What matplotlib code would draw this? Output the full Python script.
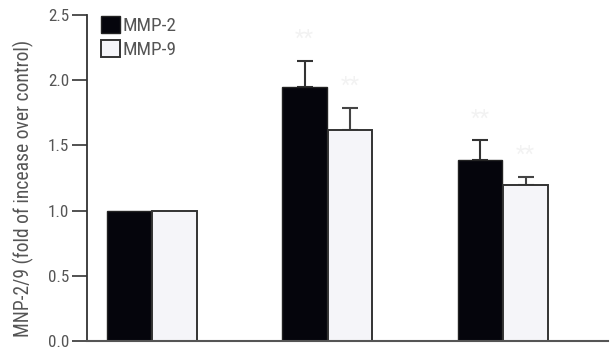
import matplotlib
matplotlib.use("Agg")
import matplotlib.pyplot as plt
import numpy as np

groups = [0, 1, 2]
mmp2 = [1.00, 1.95, 1.39]
mmp2_err = [0.0, 0.20, 0.15]
mmp9 = [1.00, 1.62, 1.20]
mmp9_err = [0.0, 0.17, 0.06]
yticks = [0.0, 0.5, 1.0, 1.5, 2.0, 2.5]
ylabel = "MNP-2/9 (fold of incease over control)"
series_labels = ["MMP-2", "MMP-9"]

FAM = ['Roboto Condensed', 'PT Sans Narrow', 'DejaVu Sans']
plt.rcParams['font.family'] = FAM
TXT = '#555555'

fig = plt.figure(figsize=(6.14, 3.51), dpi=100)
W, H = 614, 351
renderer = fig.canvas.get_renderer()


def fit_size(s, target_px):
    t = fig.text(0, 0, s, fontsize=10)
    w = t.get_window_extent(renderer).width
    t.remove()
    return 10.0 * target_px / w


tick_fs = fit_size("1.0", 21)
leg_fs = fit_size("MMP-2", 54)
lab_fs = fit_size(ylabel, 296)

ax = fig.add_axes([87 / W, (H - 341) / H, (608 - 87) / W, (341 - 15) / H])

x = np.array(groups, dtype=float)
bw = 0.255
off = 0.13
ax.bar(x - off, mmp2, bw, color='#05050c', edgecolor='#222222', linewidth=1.0,
       label=series_labels[0], zorder=2)
ax.bar(x + off, mmp9, bw, color='#f5f5f9', edgecolor='#333333', linewidth=1.4,
       label=series_labels[1], zorder=2)

for xi, v, e in zip(x - off, mmp2, mmp2_err):
    if e > 0:
        ax.errorbar(xi, v, yerr=[[0], [e]], fmt='none', ecolor='#333333',
                    elinewidth=1.5, capsize=5.5, capthick=1.5, zorder=1)
for xi, v, e in zip(x + off, mmp9, mmp9_err):
    if e > 0:
        ax.errorbar(xi, v, yerr=[[0], [e]], fmt='none', ecolor='#444444',
                    elinewidth=1.5, capsize=5.5, capthick=1.5, zorder=1)

# faint significance marks
for xi, v, e in zip(x[1:] - off, mmp2[1:], mmp2_err[1:]):
    ax.text(xi, v + e + 0.08, "**", ha='center', va='bottom', color='#f2f2f2', fontsize=16)
for xi, v, e in zip(x[1:] + off, mmp9[1:], mmp9_err[1:]):
    ax.text(xi, v + e + 0.08, "**", ha='center', va='bottom', color='#f2f2f2', fontsize=16)

ax.set_xlim(-0.37, 2.60)
ax.set_ylim(0, 2.5)
ax.set_yticks(yticks)
ax.set_yticklabels([f"{t:.1f}" for t in yticks], color=TXT, fontsize=tick_fs)
ax.set_xticks([])
for s in ['top', 'right']:
    ax.spines[s].set_visible(False)
ax.spines['left'].set_color('#333333')
ax.spines['bottom'].set_color('#555555')
ax.spines['left'].set_linewidth(1.3)
ax.spines['bottom'].set_linewidth(1.5)
ax.tick_params(axis='y', direction='out', length=10.5, width=1.2, color='#333333', pad=2.5)

fig.text(23 / W, 1 - 188 / H, ylabel, rotation=90, ha='center', va='center',
         color=TXT, fontsize=lab_fs)

fs_px = leg_fs * 100 / 72
leg = ax.legend(loc='upper left', bbox_to_anchor=(101 / W, 1 - 16 / H),
                bbox_transform=fig.transFigure, frameon=False,
                fontsize=leg_fs, handlelength=19 / fs_px, handleheight=19 / fs_px,
                handletextpad=3 / fs_px, borderpad=0, borderaxespad=0,
                labelspacing=0.28)
for t in leg.get_texts():
    t.set_color(TXT)

fig.savefig("out.png", dpi=100)
